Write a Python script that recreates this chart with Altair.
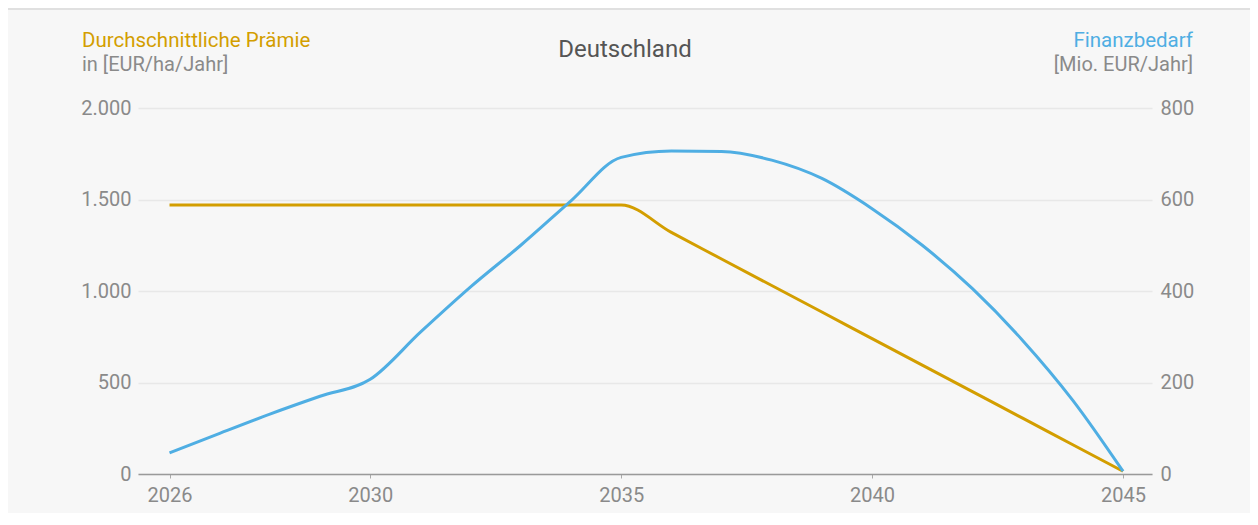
import altair as alt
import pandas as pd

years = [2026, 2027, 2028, 2029, 2030, 2031, 2032, 2033, 2034, 2035,
         2036, 2037, 2038, 2039, 2040, 2041, 2042, 2043, 2044, 2045]
praemie = [1470, 1470, 1470, 1470, 1470, 1470, 1470, 1470, 1470, 1470,
           1320, 1175, 1030, 885, 740, 595, 450, 305, 160, 15]
bedarf = [46, 89, 131, 170, 207, 310, 409, 500, 597, 692,
          706, 705, 686, 646, 580, 500, 405, 292, 161, 6]

x_ticks = [2026, 2030, 2035, 2040, 2045]
left_ticks = [0, 500, 1000, 1500, 2000]
right_ticks = [0, 200, 400, 600, 800]

chart_title = "Deutschland"
left_title = "Durchschnittliche Prämie"
left_unit = "in [EUR/ha/Jahr]"
right_title = "Finanzbedarf"
right_unit = "[Mio. EUR/Jahr]"

GOLD = "#d39e00"
BLUE = "#4faee3"
GREY = "#8a8a8a"
FONT = "Roboto"

df = pd.DataFrame({"year": years, "praemie": praemie, "bedarf": bedarf})

W, H = 1014, 366

x_enc = alt.X(
    "year:Q",
    scale=alt.Scale(domain=[2025.372, 2045.578], nice=False, zero=False),
    axis=alt.Axis(values=x_ticks, format="d", title=None, grid=False,
                  domainColor="#9a9a9a", domainWidth=1.5,
                  tickColor="#aaaaaa", tickSize=4, labelPadding=7,
                  labelColor=GREY, labelFontSize=20, labelFont=FONT),
)

base = alt.Chart(df)

gold_line = base.mark_line(color=GOLD, strokeWidth=3, interpolate="monotone").encode(
    x=x_enc,
    y=alt.Y("praemie:Q",
            scale=alt.Scale(domain=[0, 2000], nice=False),
            axis=alt.Axis(values=left_ticks, orient="left", title=None,
                          labelExpr="replace(format(datum.value, ','), ',', '.')",
                          domain=False, ticks=False, grid=True,
                          gridColor="#e8e8e8", gridWidth=1.5,
                          labelPadding=7, labelColor=GREY,
                          labelFontSize=20, labelFont=FONT)),
)

blue_line = base.mark_line(color=BLUE, strokeWidth=3, interpolate="monotone").encode(
    x=x_enc,
    y=alt.Y("bedarf:Q",
            scale=alt.Scale(domain=[0, 800], nice=False),
            axis=alt.Axis(values=right_ticks, orient="right", title=None,
                          domain=False, ticks=False, grid=False,
                          labelPadding=8, labelColor=GREY,
                          labelFontSize=20, labelFont=FONT)),
)


def label(txt, x, y, color, size, align):
    return alt.Chart(pd.DataFrame({"t": [txt]})).mark_text(
        color=color, fontSize=size, font=FONT, align=align, baseline="alphabetic"
    ).encode(text="t:N", x=alt.value(x), y=alt.value(y))


texts = [
    label(chart_title, 487, -51, "#555555", 24, "center"),
    label(left_title, -56, -61, GOLD, 20.5, "left"),
    label(left_unit, -56, -37, GREY, 20, "left"),
    label(right_title, 1055, -61, BLUE, 20.5, "right"),
    label(right_unit, 1055, -37, GREY, 20, "right"),
]

top_rule = alt.Chart(pd.DataFrame({"a": [0]})).mark_rule(
    color="#e0e0e0", strokeWidth=2
).encode(x=alt.value(-130), x2=alt.value(1112), y=alt.value(-99))

chart = alt.layer(gold_line, blue_line, top_rule, *texts).resolve_scale(
    y="independent"
).properties(
    width=W, height=H,
    autosize=alt.AutoSizeParams(type="none"),
    padding={"left": 130, "top": 100, "right": 98, "bottom": 39},
    background="#f7f7f7",
).configure_view(stroke=None)

chart.save("out.html", embed_options={"renderer": "svg", "actions": False})
